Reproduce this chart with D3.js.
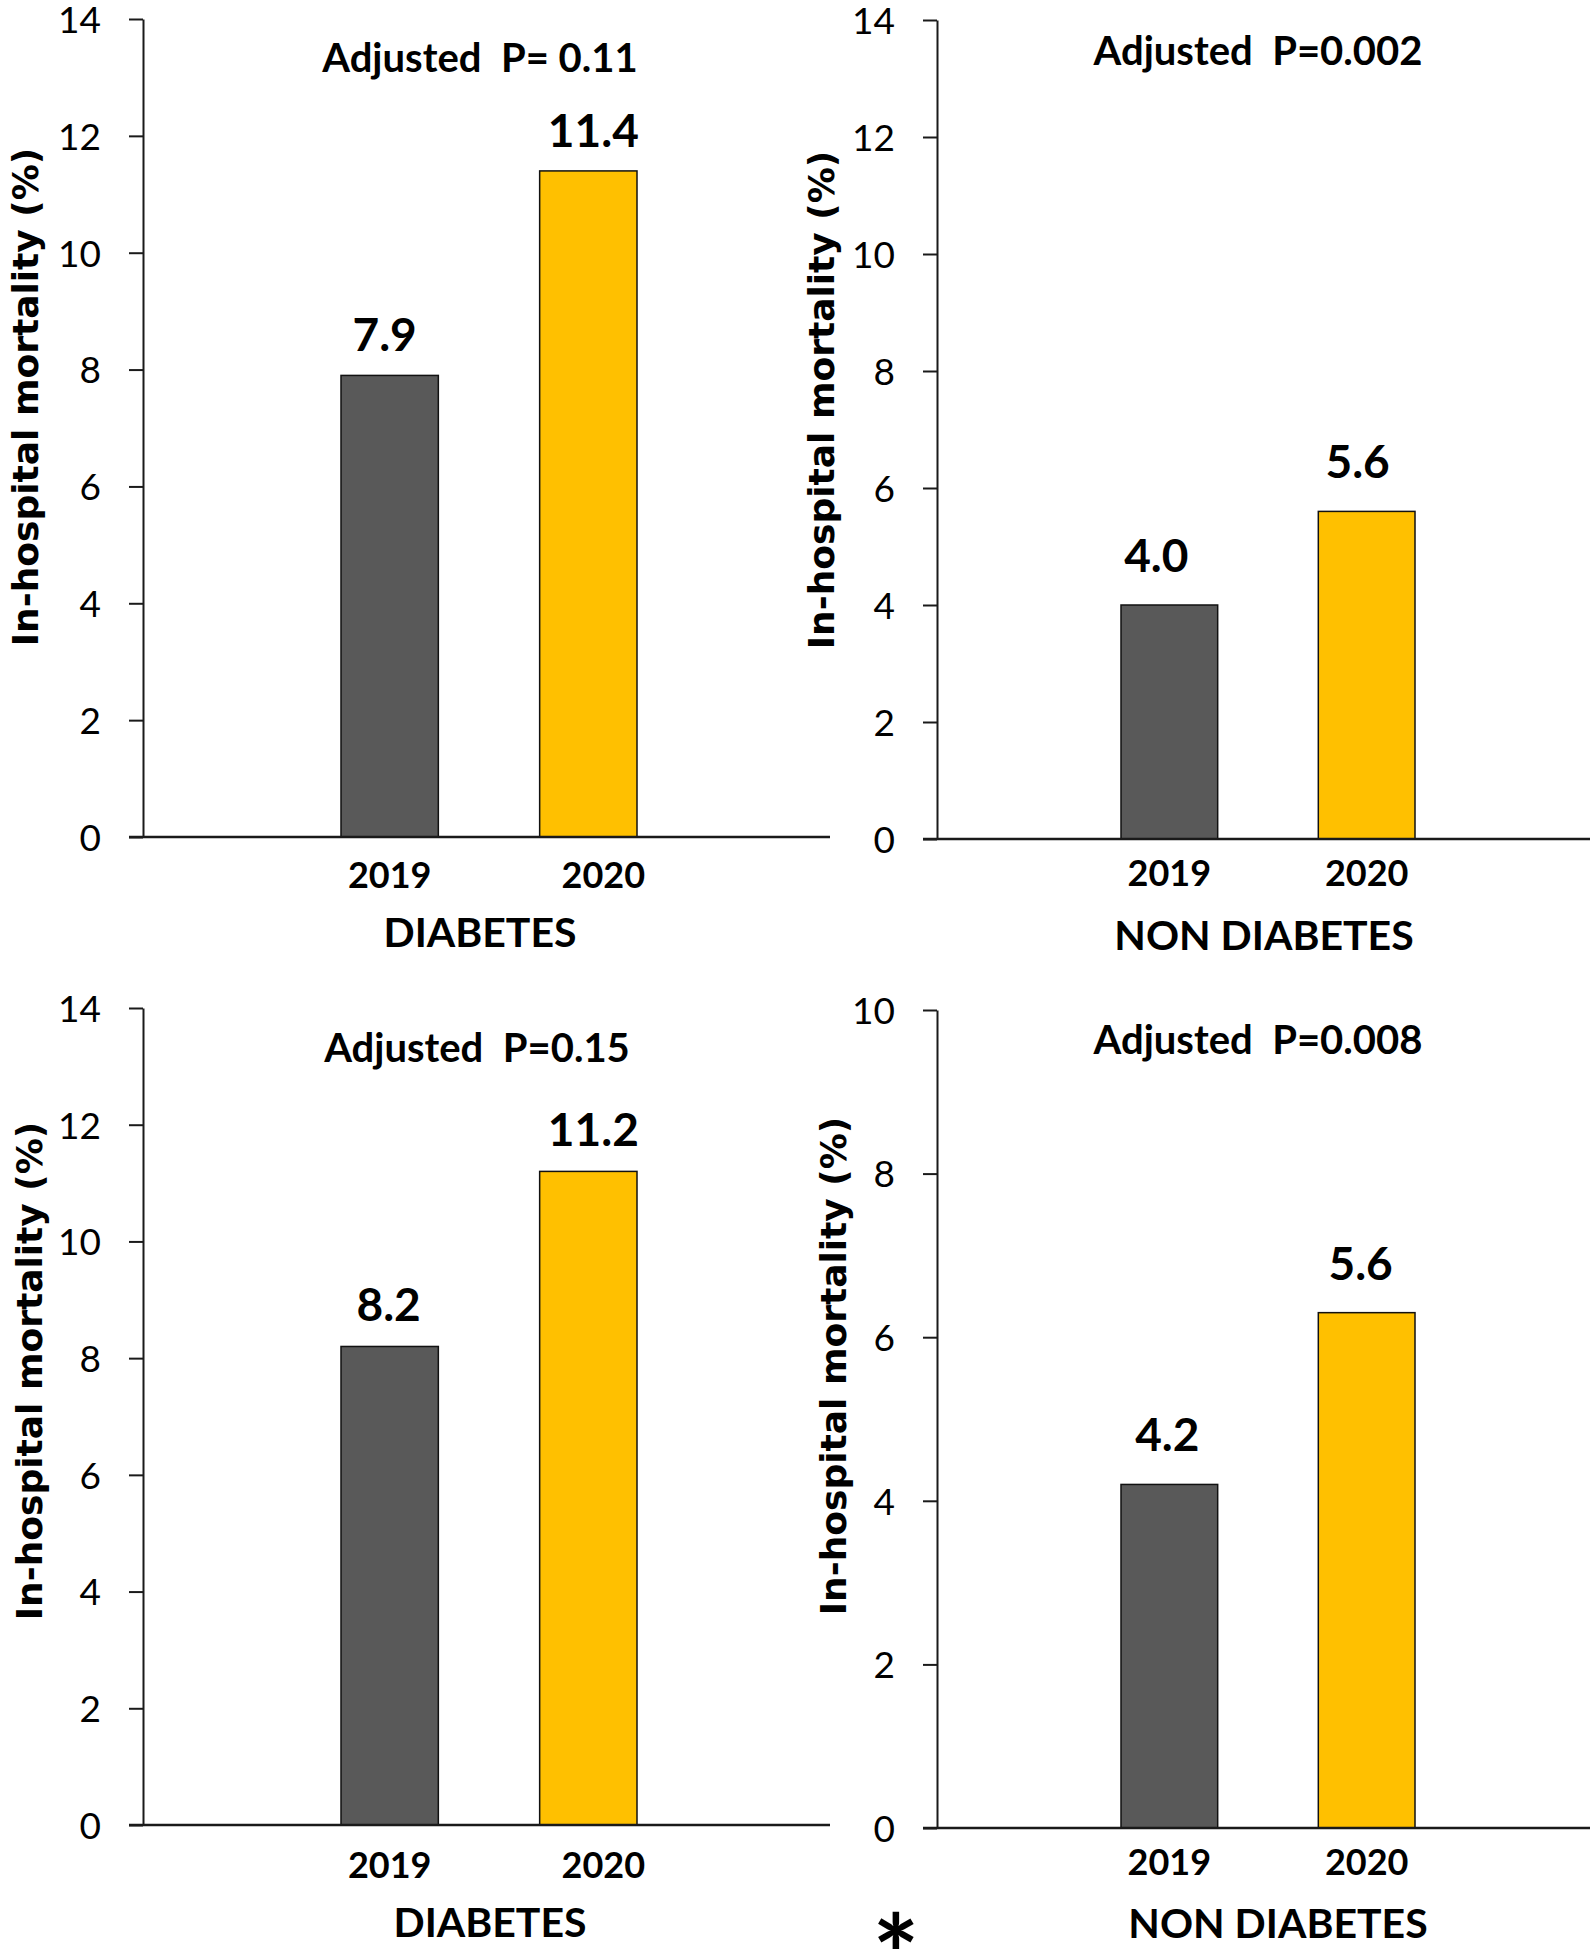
<!DOCTYPE html>
<html>
<head>
<meta charset="utf-8">
<script src="https://cdn.jsdelivr.net/npm/d3@7"></script>
<style>
  html, body { margin: 0; padding: 0; background: #fff; }
  svg { display: block; }
  text { white-space: pre; }
</style>
</head>
<body>
<div id="chart"></div>
<script>
// ---------------- DATA ----------------
const years = ["2019", "2020"];
const groupNames = ["DIABETES", "NON DIABETES", "DIABETES", "NON DIABETES"];
const pValueTexts = ["Adjusted  P= 0.11", "Adjusted  P=0.002", "Adjusted  P=0.15", "Adjusted  P=0.008"];
const barValues = [
  [7.9, 11.4],
  [4.0, 5.6],
  [8.2, 11.2],
  [4.2, 6.3]
];
const valueLabels = [
  ["7.9", "11.4"],
  ["4.0", "5.6"],
  ["8.2", "11.2"],
  ["4.2", "5.6"]
];
const yMax = [14, 14, 14, 10];
const yTicks = [
  [0, 2, 4, 6, 8, 10, 12, 14],
  [0, 2, 4, 6, 8, 10, 12, 14],
  [0, 2, 4, 6, 8, 10, 12, 14],
  [0, 2, 4, 6, 8, 10]
];
const yTitle = "In-hospital mortality (%)";
const footnoteMark = "*";

// ---------------- LAYOUT ----------------
const W = 1594, H = 1957;
const layout = [
  { axisX: 143, y0: 837, yTop: 19, xEnd: 830, bars: [341, 637], tickY: 888, tick2Dx: 15,
    groupX: 480, groupY: 947, pX: 480, pY: 72, ylabX: 38, ylabY: 397, gap: 24, valDx: [-5, 5] },
  { axisX: 937, y0: 839, yTop: 20, xEnd: 1590, bars: [1121, 1415], tickY: 886, tick2Dx: 0,
    groupX: 1264, groupY: 950, pX: 1258, pY: 65, ylabX: 834, ylabY: 400, gap: 33, valDx: [-13, -9] },
  { axisX: 143, y0: 1825, yTop: 1008, xEnd: 830, bars: [341, 637], tickY: 1878, tick2Dx: 15,
    groupX: 490, groupY: 1937, pX: 477, pY: 1062, ylabX: 42, ylabY: 1371, gap: 25, valDx: [-1, 5] },
  { axisX: 937, y0: 1828, yTop: 1010, xEnd: 1590, bars: [1121, 1415], tickY: 1875, tick2Dx: 0,
    groupX: 1278, groupY: 1938, pX: 1258, pY: 1054, ylabX: 846, ylabY: 1366, gap: 33, valDx: [-2, -6] }
];
const barColors = ["#595959", "#FFC000"];
const labelFont = "Lato, 'Open Sans', sans-serif";
const titleFont = "'DejaVu Sans', Verdana, sans-serif";

const svg = d3.select("#chart").append("svg")
  .attr("width", W).attr("height", H)
  .attr("viewBox", `0 0 ${W} ${H}`);

layout.forEach((L, i) => {
  const g = svg.append("g");
  const y = d3.scaleLinear().domain([0, yMax[i]]).range([L.y0, L.yTop]);
  const x = d3.scaleBand().domain(years).range(L.bars).paddingInner(0.51).paddingOuter(0);

  // y axis
  const yAxis = d3.axisLeft(y).tickValues(yTicks[i]).tickSize(14).tickSizeOuter(0).tickPadding(28)
    .tickFormat(d3.format("d"));
  const ya = g.append("g").attr("transform", `translate(${L.axisX},0)`).call(yAxis);
  ya.select(".domain").attr("stroke", "#1a1a1a").attr("stroke-width", 2);
  ya.selectAll(".tick line").attr("stroke", "#1a1a1a").attr("stroke-width", 2);
  ya.selectAll(".tick text")
    .attr("font-family", labelFont).attr("font-size", 37).attr("fill", "#000")
    .attr("dy", "0.36em");

  // bars
  g.selectAll("rect.bar").data(barValues[i]).join("rect")
    .attr("class", "bar")
    .attr("x", (d, j) => x(years[j]))
    .attr("width", x.bandwidth())
    .attr("y", d => y(d))
    .attr("height", d => y(0) - y(d))
    .attr("fill", (d, j) => barColors[j])
    .attr("stroke", "#111").attr("stroke-width", 1.5);

  // x axis line (baseline)
  g.append("line")
    .attr("x1", L.axisX - 14).attr("x2", L.xEnd)
    .attr("y1", y(0)).attr("y2", y(0))
    .attr("stroke", "#1a1a1a").attr("stroke-width", 2.5);

  // x tick labels
  g.selectAll("text.xt").data(years).join("text")
    .attr("class", "xt")
    .attr("x", (d, j) => x(d) + x.bandwidth() / 2 + (j === 1 ? L.tick2Dx : 0))
    .attr("y", L.tickY)
    .attr("text-anchor", "middle")
    .attr("font-family", labelFont).attr("font-weight", 700).attr("font-size", 36)
    .attr("fill", "#000")
    .text(d => d);

  // value labels
  g.selectAll("text.val").data(barValues[i]).join("text")
    .attr("class", "val")
    .attr("x", (d, j) => x(years[j]) + x.bandwidth() / 2 + L.valDx[j])
    .attr("y", d => y(d) - L.gap)
    .attr("text-anchor", "middle")
    .attr("font-family", labelFont).attr("font-weight", 700).attr("font-size", 46)
    .attr("fill", "#000")
    .text((d, j) => valueLabels[i][j]);

  // p-value annotation
  g.append("text")
    .attr("x", L.pX).attr("y", L.pY)
    .attr("text-anchor", "middle")
    .attr("font-family", labelFont).attr("font-weight", 700).attr("font-size", 40)
    .attr("fill", "#000")
    .text(pValueTexts[i]);

  // group name
  g.append("text")
    .attr("x", L.groupX).attr("y", L.groupY)
    .attr("text-anchor", "middle")
    .attr("font-family", labelFont).attr("font-weight", 700).attr("font-size", 41)
    .attr("fill", "#000")
    .text(groupNames[i]);

  // y title
  g.append("text")
    .attr("transform", `translate(${L.ylabX},${L.ylabY}) rotate(-90)`)
    .attr("text-anchor", "middle")
    .attr("font-family", titleFont).attr("font-weight", 700).attr("font-size", 36)
    .attr("fill", "#000")
    .text(yTitle);
});

// footnote asterisk
svg.append("text")
  .attr("x", 896).attr("y", 1995)
  .attr("text-anchor", "middle")
  .attr("font-family", labelFont).attr("font-weight", 700).attr("font-size", 110)
  .attr("fill", "#000")
  .text(footnoteMark);
</script>
</body>
</html>
